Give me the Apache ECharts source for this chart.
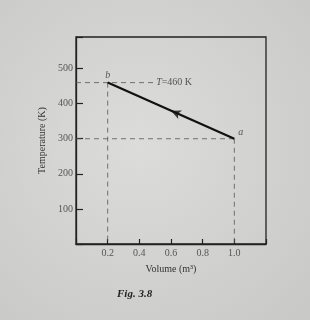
<!DOCTYPE html>
<html>
<head>
    <meta charset="utf-8">
    <title>Fig. 3.8</title>
    <style type="text/css">
        html, body { margin: 0; padding: 0; }
        #main { width: 310px; height: 320px; }
    </style>
    <script src="https://cdn.jsdelivr.net/npm/echarts@6/dist/echarts.min.js"></script>
</head>
<body>
    <div id="main"></div>
    <script type="text/javascript">
// data
var pointA = [1.0, 300];          // state a (V, T)
var pointB = [0.2, 460];          // state b (V, T)
var isothermEndV = 0.5;           // dashed T=460 K line ends here
var arrowAt = [0.6, 380];         // arrowhead on the path a -> b
var xTicks = ['0.2', '0.4', '0.6', '0.8', '1.0'];
var yTicks = ['100', '200', '300', '400', '500'];

var serif = '"Liberation Serif", "DejaVu Serif", serif';
var myChart = echarts.init(document.getElementById('main'));

function dashed(data) {
    return {
        type: 'line',
        data: data,
        symbol: 'none',
        silent: true,
        lineStyle: { color: '#555', width: 0.8, type: [5, 4] },
        z: 2
    };
}

var option = {
    animation: false,
    backgroundColor: {
        type: 'radial', x: 0.45, y: 0.45, r: 0.75,
        colorStops: [{ offset: 0, color: '#dcdcda' }, { offset: 1, color: '#c9c9c7' }]
    },
    // full frame round the plot
    grid: {
        left: 76, right: 44, top: 37, bottom: 76,
        show: true, borderColor: '#222', borderWidth: 1.3, backgroundColor: 'transparent'
    },
    xAxis: {
        type: 'value', min: 0, max: 1.2, interval: 0.2,
        name: 'Volume (m³)', nameLocation: 'middle', nameGap: 20,
        nameTextStyle: { fontFamily: serif, fontSize: 10, color: '#333' },
        axisLine: { show: true, lineStyle: { color: '#222', width: 1.3 } },
        axisTick: { show: true, inside: true, length: 5, lineStyle: { color: '#222', width: 1.2 } },
        axisLabel: {
            fontFamily: serif, fontSize: 10, color: '#555', margin: 4,
            formatter: function (v) {
                var s = v.toFixed(1);
                return xTicks.indexOf(s) >= 0 ? s : '';
            }
        },
        splitLine: { show: false }
    },
    yAxis: {
        type: 'value', min: 0, max: 590, interval: 100,
        name: 'Temperature (K)', nameLocation: 'middle', nameGap: 24,
        nameTextStyle: { fontFamily: serif, fontSize: 10, color: '#333' },
        axisLine: { show: true, lineStyle: { color: '#222', width: 1.3 } },
        axisTick: { show: true, inside: true, length: 7, lineStyle: { color: '#222', width: 1.2 } },
        axisLabel: {
            fontFamily: serif, fontSize: 10, color: '#555', margin: 3,
            formatter: function (v) {
                var s = String(v);
                return yTicks.indexOf(s) >= 0 ? s : '';
            }
        },
        splitLine: { show: false }
    },
    graphic: [{
        type: 'text', left: 117, top: 289,
        style: { text: 'Fig. 3.8', font: 'italic bold 11px ' + serif, fill: '#222' }
    }],
    series: [
        dashed([[0, pointB[1]], [isothermEndV, pointB[1]]]),
        dashed([[pointB[0], pointB[1]], [pointB[0], 0]]),
        dashed([[0, pointA[1]], [pointA[0], pointA[1]]]),
        dashed([[pointA[0], pointA[1]], [pointA[0], 0]]),
        {
            type: 'line',
            data: [pointA, pointB],
            symbol: 'none',
            lineStyle: { color: '#111', width: 2.2 },
            z: 3
        },
        {
            type: 'scatter',
            data: [
                { value: pointB, label: { formatter: 'b', position: 'top', distance: 2 } },
                { value: pointA, label: { formatter: 'a', position: 'right', distance: 4, offset: [0, -6] } },
                { value: [isothermEndV, pointB[1]], label: {
                    formatter: '{i|T}=460 K', position: 'right', distance: 1,
                    fontStyle: 'normal',
                    rich: { i: { fontFamily: serif, fontStyle: 'italic', fontSize: 10, color: '#333' } }
                } }
            ],
            symbolSize: 0,
            label: { show: true, fontFamily: serif, fontStyle: 'italic', fontSize: 10, color: '#333' },
            z: 4
        },
        {
            type: 'scatter',
            data: [arrowAt],
            symbol: 'arrow',
            symbolSize: [7, 10],
            itemStyle: { color: '#111' },
            z: 5
        }
    ]
};

myChart.setOption(option);

// point the arrowhead along a -> b in screen space
var pa = myChart.convertToPixel({ gridIndex: 0 }, pointA);
var pb = myChart.convertToPixel({ gridIndex: 0 }, pointB);
var ang = Math.atan2(-(pb[1] - pa[1]), pb[0] - pa[0]) * 180 / Math.PI;
myChart.setOption({ series: [{}, {}, {}, {}, {}, {}, { symbolRotate: ang - 90 }] });
    </script>
</body>
</html>
